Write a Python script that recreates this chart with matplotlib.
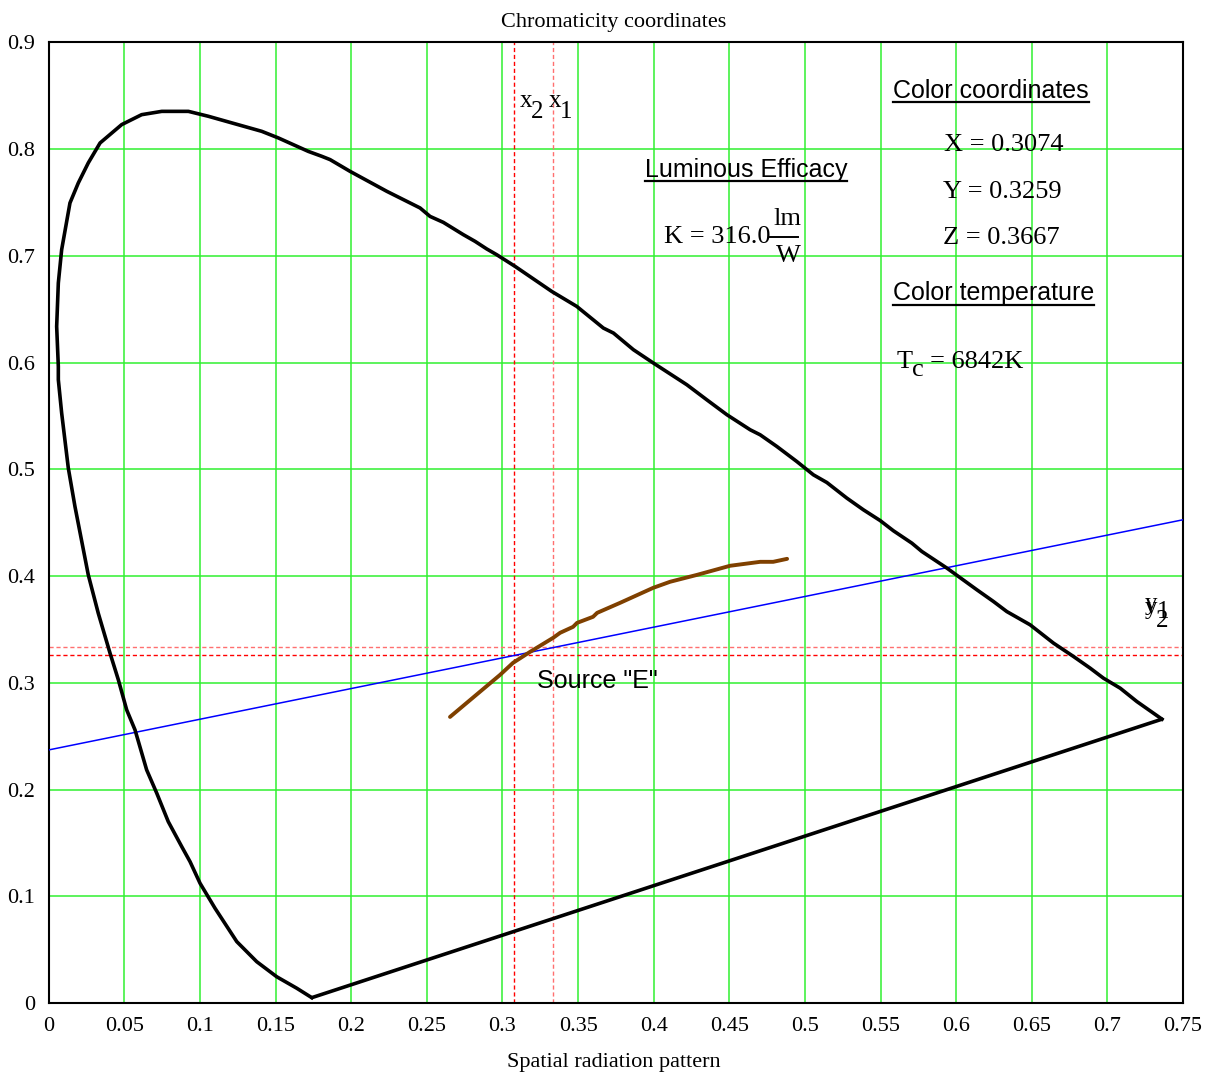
import numpy as np
import matplotlib
matplotlib.use("Agg")
import matplotlib.pyplot as plt
from matplotlib.lines import Line2D

plt.rcParams['font.family'] = ['Liberation Serif', 'DejaVu Serif']

# spectral locus (from the violet end, around, to the red end)
locus_x = [0.1739, 0.1640, 0.1507, 0.1375, 0.1243, 0.1099, 0.1000, 0.0934, 0.0879, 0.0790,
           0.0714, 0.0647, 0.0570, 0.0515, 0.0460, 0.0405, 0.0327, 0.0261, 0.0173, 0.0129,
           0.0085, 0.0063, 0.0063, 0.0052, 0.0063, 0.0085, 0.0140, 0.0195, 0.0261, 0.0339,
           0.0482, 0.0614, 0.0747, 0.0923, 0.1055, 0.1210, 0.1408, 0.1518, 0.1716, 0.1805,
           0.1860, 0.1992, 0.2235, 0.2455, 0.2521, 0.2609, 0.2741, 0.2819, 0.2896, 0.2962,
           0.3083, 0.3326, 0.3491, 0.3667, 0.3734, 0.3866, 0.3998, 0.4219, 0.4351, 0.4484,
           0.4638, 0.4704, 0.4814, 0.4946, 0.5056, 0.5145, 0.5277, 0.5387, 0.5497, 0.5585,
           0.5707, 0.5773, 0.5939, 0.6137, 0.6247, 0.6335, 0.6489, 0.6644, 0.6776, 0.6886,
           0.6974, 0.7085, 0.7195, 0.7361]
locus_y = [0.0050, 0.0138, 0.0246, 0.0387, 0.0575, 0.0888, 0.1122, 0.1324, 0.1465, 0.1699,
           0.1965, 0.2184, 0.2559, 0.2746, 0.3027, 0.3277, 0.3652, 0.4011, 0.4651, 0.5011,
           0.5527, 0.5839, 0.5963, 0.6338, 0.6745, 0.7057, 0.7495, 0.7682, 0.7870, 0.8057,
           0.8229, 0.8322, 0.8353, 0.8353, 0.8307, 0.8245, 0.8166, 0.8104, 0.7978, 0.7932,
           0.7901, 0.7791, 0.7604, 0.7448, 0.7369, 0.7313, 0.7198, 0.7135, 0.7064, 0.7010,
           0.6901, 0.6666, 0.6526, 0.6323, 0.6276, 0.6120, 0.5995, 0.5792, 0.5651, 0.5511,
           0.5370, 0.5323, 0.5214, 0.5073, 0.4948, 0.4876, 0.4730, 0.4620, 0.4520, 0.4424,
           0.4308, 0.4230, 0.4074, 0.3871, 0.3761, 0.3667, 0.3543, 0.3371, 0.3246, 0.3137,
           0.3043, 0.2949, 0.2824, 0.2659]

# blackbody curve (brown)
bb_x = [0.2653, 0.2984, 0.3070, 0.3183, 0.3335, 0.3381, 0.3467, 0.3493, 0.3599, 0.3626,
        0.3778, 0.3996, 0.4108, 0.4287, 0.4505, 0.4704, 0.4790, 0.4882]
bb_y = [0.2680, 0.3074, 0.3187, 0.3290, 0.3421, 0.3468, 0.3524, 0.3561, 0.3618, 0.3655,
        0.3749, 0.3889, 0.3946, 0.4011, 0.4096, 0.4133, 0.4133, 0.4161]

# blue line
blue_x = [0.0, 0.75]
blue_y = [0.2371, 0.4527]

x1, x2 = 0.3333, 0.3074
y1, y2 = 0.3333, 0.3259

xticks = np.round(np.arange(0, 0.751, 0.05), 2)
yticks = np.round(np.arange(0, 0.901, 0.1), 1)

W, H = 1223, 1075
fig = plt.figure(figsize=(W / 100, H / 100), dpi=100, facecolor="white")
ax = fig.add_axes([48.8 / W, 1 - 1003 / H, 1134.2 / W, 960.7 / H])

ax.set_xlim(0, 0.75)
ax.set_ylim(0, 0.9)
ax.set_xticks(xticks)
ax.set_yticks(yticks)
ax.set_xticklabels([("%g" % v) for v in xticks])
ax.set_yticklabels([("%g" % v) for v in yticks])
ax.tick_params(length=0, labelsize=16, pad=10)
ax.grid(True, color="#30f030", lw=1.1)
ax.set_axisbelow(True)
for s in ax.spines.values():
    s.set_linewidth(1.5)
    s.set_color("black")

ax.plot(locus_x, locus_y, color="black", lw=2.6, zorder=4, solid_joinstyle="round")
ax.plot([locus_x[-1], locus_x[0]], [locus_y[-1], locus_y[0]], color="black", lw=2.6, zorder=4,
        solid_capstyle="round")
ax.plot(blue_x, blue_y, color="blue", lw=1.1, zorder=3)
ax.plot(bb_x, bb_y, color="#7f4000", lw=2.8, zorder=5, solid_capstyle="round")

ax.axvline(x2, color="#ff0000", lw=1.0, ls=(0, (3, 2)), zorder=2)
ax.axvline(x1, color="#ff7070", lw=1.0, ls=(0, (3, 2)), zorder=2)
ax.axhline(y1, color="#ff7070", lw=1.0, ls=(0, (3, 2)), zorder=2)
ax.axhline(y2, color="#ff0000", lw=1.0, ls=(0, (3, 2)), zorder=2)


def put(px, py, s, size=18, **kw):
    # place text by its left/baseline point, given in picture pixels
    return fig.text(px / W, 1 - py / H, s, fontsize=size, ha="left", va="baseline", **kw)


sans = ['Liberation Sans', 'DejaVu Sans']

# line labels with subscripts
put(520, 106.7, "x")
put(531, 117.7, "2")
put(549, 106.7, "x")
put(560, 117.7, "1")
put(1145, 610, "y")
put(1157, 618, "1")
put(1145, 614, "y")
put(1155.5, 627, "2")

put(536.7, 688.3, 'Source "E"', family=sans)

headers = [
    put(893, 98.3, "Color coordinates", family=sans),
    put(893, 300, "Color temperature", family=sans),
    put(645, 176.7, "Luminous Efficacy", family=sans),
]

put(944.3, 151, "X = 0.3074", size=19)
put(943.3, 197.7, "Y = 0.3259", size=19)
put(942.7, 244.3, "Z = 0.3667", size=19)

put(897, 368.3, "T", size=19)
put(912, 375.5, "c", size=19)
put(930, 368.3, "= 6842K", size=19)

put(664.3, 243.3, "K = 316.0", size=19)
put(773.3, 225, "lm", size=19)
put(775.7, 261.7, "W", size=19)
fig.add_artist(Line2D([770 / W, 797.7 / W], [1 - 236.7 / H, 1 - 236.7 / H],
                      transform=fig.transFigure, color="black", lw=1.4))

fig.text(614 / W, 1 - 22 / H, "Chromaticity coordinates", fontsize=16, ha="center", va="center")
fig.text(614 / W, 1 - 1062 / H, "Spatial radiation pattern", fontsize=16, ha="center",
         va="center")

# underline the section headers
fig.canvas.draw()
renderer = fig.canvas.get_renderer()
offsets = [3.4, 5.0, 4.3]
for t, off in zip(headers, offsets):
    bb = t.get_window_extent(renderer)
    fx0, fx1 = bb.x0 / W, bb.x1 / W
    fy = t.get_position()[1] - off / H
    fig.add_artist(Line2D([fx0, fx1], [fy, fy], transform=fig.transFigure,
                          color="black", lw=1.6))

fig.savefig("out.png", dpi=100, facecolor="white")
